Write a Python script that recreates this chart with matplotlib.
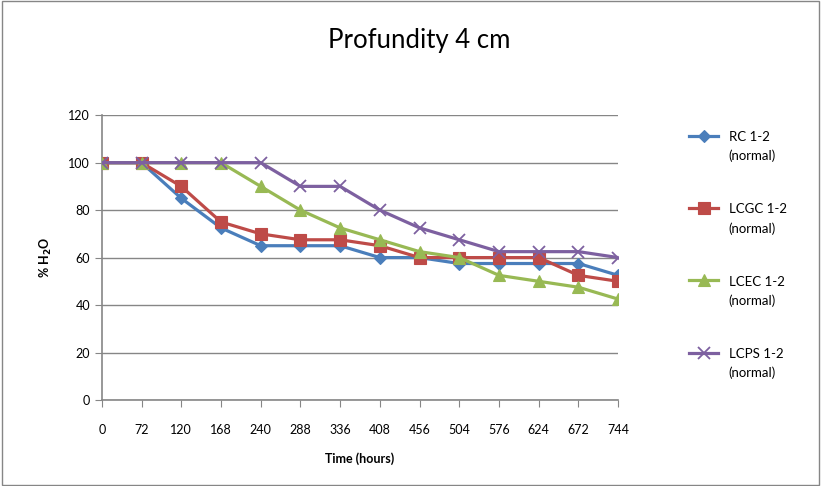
import matplotlib
matplotlib.use("Agg")
import matplotlib.pyplot as plt
from matplotlib.legend_handler import HandlerLine2D

plt.rcParams['font.family'] = ['Lato', 'DejaVu Sans']

hours = ['0', '72', '120', '168', '240', '288', '336', '408', '456', '504', '576', '624', '672', '744']
rc = [100, 100, 85, 72.5, 65, 65, 65, 60, 60, 57.5, 57.5, 57.5, 57.5, 52.5]
lcgc = [100, 100, 90, 75, 70, 67.5, 67.5, 65, 60, 60, 60, 60, 52.5, 50]
lcec = [100, 100, 100, 100, 90, 80, 72.5, 67.5, 62.5, 60, 52.5, 50, 47.5, 42.5]
lcps = [100, 100, 100, 100, 100, 90, 90, 80, 72.5, 67.5, 62.5, 62.5, 62.5, 60]

series = [
    ('RC 1-2\n(normal)', rc, '#4A7EBB', 'D', 6),
    ('LCGC 1-2\n(normal)', lcgc, '#BE4B48', 's', 8),
    ('LCEC 1-2\n(normal)', lcec, '#98B954', '^', 8),
    ('LCPS 1-2\n(normal)', lcps, '#7D60A0', 'x', 9),
]


class UpHandler(HandlerLine2D):
    # put the legend marker next to the first line of a two-line label
    def create_artists(self, legend, orig_handle, xdescent, ydescent, width, height, fontsize, trans):
        return super().create_artists(legend, orig_handle, xdescent, ydescent - 1.7 * fontsize,
                                      width, height, fontsize, trans)


fig = plt.figure(figsize=(8.21, 4.86), dpi=100)
ax = fig.add_axes([0.124, 0.177, 0.629, 0.586])

x = list(range(len(hours)))
handles = []
for label, vals, color, marker, ms in series:
    line, = ax.plot(x, vals, color=color, marker=marker, markersize=ms, linewidth=2.3,
                    markeredgewidth=1.3 if marker == 'x' else 0.8, label=label, zorder=3)
    handles.append(line)

ax.set_xlim(0, len(hours) - 1)
ax.set_ylim(0, 120)
ax.set_xticks(x)
ax.set_xticklabels(hours)
ax.set_yticks(range(0, 121, 20))
ax.tick_params(axis='both', labelsize=9, color='#868686', length=5, labelcolor='black')
ax.tick_params(axis='x', pad=12)
ax.grid(axis='y', color='#868686', linewidth=1)
ax.set_axisbelow(True)
for side in ['top', 'right']:
    ax.spines[side].set_visible(False)
for side in ['left', 'bottom']:
    ax.spines[side].set_color('#868686')
    ax.spines[side].set_linewidth(1.2)

ax.set_xlabel('Time (hours)', fontsize=9, fontweight='bold', labelpad=12)
ax.set_ylabel('% H$_\\mathbf{2}$O', fontsize=9, fontweight='bold', labelpad=10)

fig.text(0.511, 0.917, 'Profundity 4 cm', ha='center', va='center', fontsize=18.5)

leg = fig.legend(handles=handles, loc='upper left', bbox_to_anchor=(0.825, 0.755),
                 frameon=False, fontsize=9.5, labelspacing=3.1, handlelength=2.2,
                 handletextpad=0.8, handler_map={h: UpHandler() for h in handles})
for t in leg.get_texts():
    t.set_linespacing(1.65)

# chart border
fig.patches.append(plt.Rectangle((0.002, 0.002), 0.995, 0.995, transform=fig.transFigure,
                                 fill=False, edgecolor='#868686', linewidth=1))

fig.savefig('out.png', dpi=100)
